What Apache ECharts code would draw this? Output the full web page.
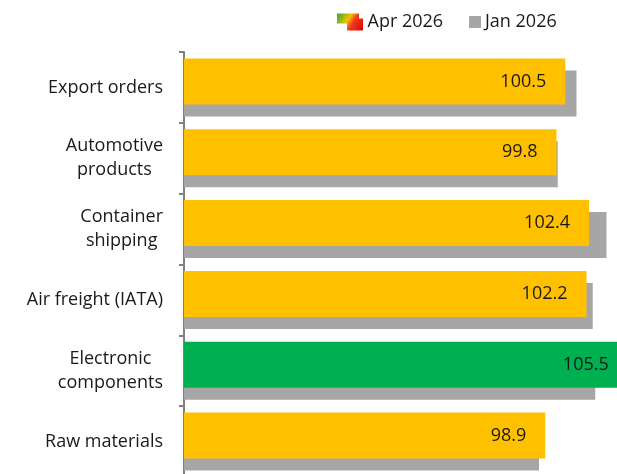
<!DOCTYPE html>
<html>
<head>
<meta charset="utf-8">
<script src="https://cdn.jsdelivr.net/npm/echarts@6/dist/echarts.min.js"></script>
<style>
  html, body { margin: 0; padding: 0; background: #fff; }
  #chart { width: 617px; height: 474px; }
</style>
</head>
<body>
<div id="chart"></div>
<script>
// data
const categories = ['Export orders', 'Automotive\nproducts', 'Container\nshipping', 'Air freight (IATA)', 'Electronic\ncomponents', 'Raw materials']
const apr2026 = [100.5, 99.8, 102.4, 102.2, 105.5, 98.9]
const jan2026 = [101.4, 99.9, 103.8, 102.7, 102.9, 98.4]
const highlightIndex = 4 // the green one

const FONT = '"Open Sans", sans-serif'

const chart = echarts.init(document.getElementById('chart'))

const aprIcon = new echarts.graphic.LinearGradient(0, 0, 1, 1, [
  { offset: 0, color: '#2eaa3c' },
  { offset: 0.4, color: '#f2c200' },
  { offset: 0.6, color: '#ee3a1c' },
  { offset: 1, color: '#e00000' }
])

const option = {
  animation: false,
  legend: [
    {
      left: 337,
      top: 13,
      padding: 0,
      itemWidth: 27,
      itemHeight: 17,
      textStyle: { fontFamily: FONT, fontSize: 18, color: '#1a1a1a', padding: [0, 0, 0, -1] },
      data: [{
        name: 'Apr 2026',
        icon: 'path://M0,0H22V10H0Z M10,5H26V17H10Z',
        itemStyle: { color: aprIcon }
      }]
    },
    {
      left: 469,
      top: 13,
      padding: 0,
      itemWidth: 12,
      itemHeight: 12,
      textStyle: { fontFamily: FONT, fontSize: 18, color: '#1a1a1a', padding: [0, 0, 0, -1] },
      data: [{ name: 'Jan 2026', icon: 'rect', itemStyle: { color: '#a6a6a6' } }]
    }
  ],
  // plot runs past the right edge of the page, as in the picture
  grid: {
    left: 184,
    right: -67,
    top: 52,
    bottom: -3,
    outerBoundsMode: 'none'
  },
  xAxis: {
    type: 'value',
    min: 70,
    max: 110,
    show: false
  },
  yAxis: {
    type: 'category',
    inverse: true,
    data: categories,
    axisLine: { lineStyle: { color: '#808080', width: 2 } },
    axisTick: { show: true, length: 5, lineStyle: { color: '#808080', width: 2 } },
    axisLabel: {
      margin: 21,
      fontFamily: FONT,
      fontSize: 18,
      color: '#1a1a1a',
      lineHeight: 24,
      formatter: v => v.split('\n').map(s => '{c|' + s + '}').join('\n'),
      rich: { c: { align: 'center', fontFamily: FONT, fontSize: 18, color: '#1a1a1a', lineHeight: 24 } }
    }
  },
  series: [
    {
      name: 'Apr 2026',
      type: 'bar',
      z: 3,
      barWidth: 46,
      barGap: '-74%',
      itemStyle: { color: '#ffc000' },
      label: {
        show: true,
        position: 'insideRight',
        distance: 19,
        fontFamily: FONT,
        fontSize: 18,
        color: '#1a1a1a'
      },
      data: apr2026.map((v, i) => i === highlightIndex ? { value: v, itemStyle: { color: '#00b050' } } : v)
    },
    {
      name: 'Jan 2026',
      type: 'bar',
      z: 2,
      barWidth: 46,
      itemStyle: { color: '#a6a6a6' },
      data: jan2026
    }
  ]
}

chart.setOption(option)
</script>
</body>
</html>
